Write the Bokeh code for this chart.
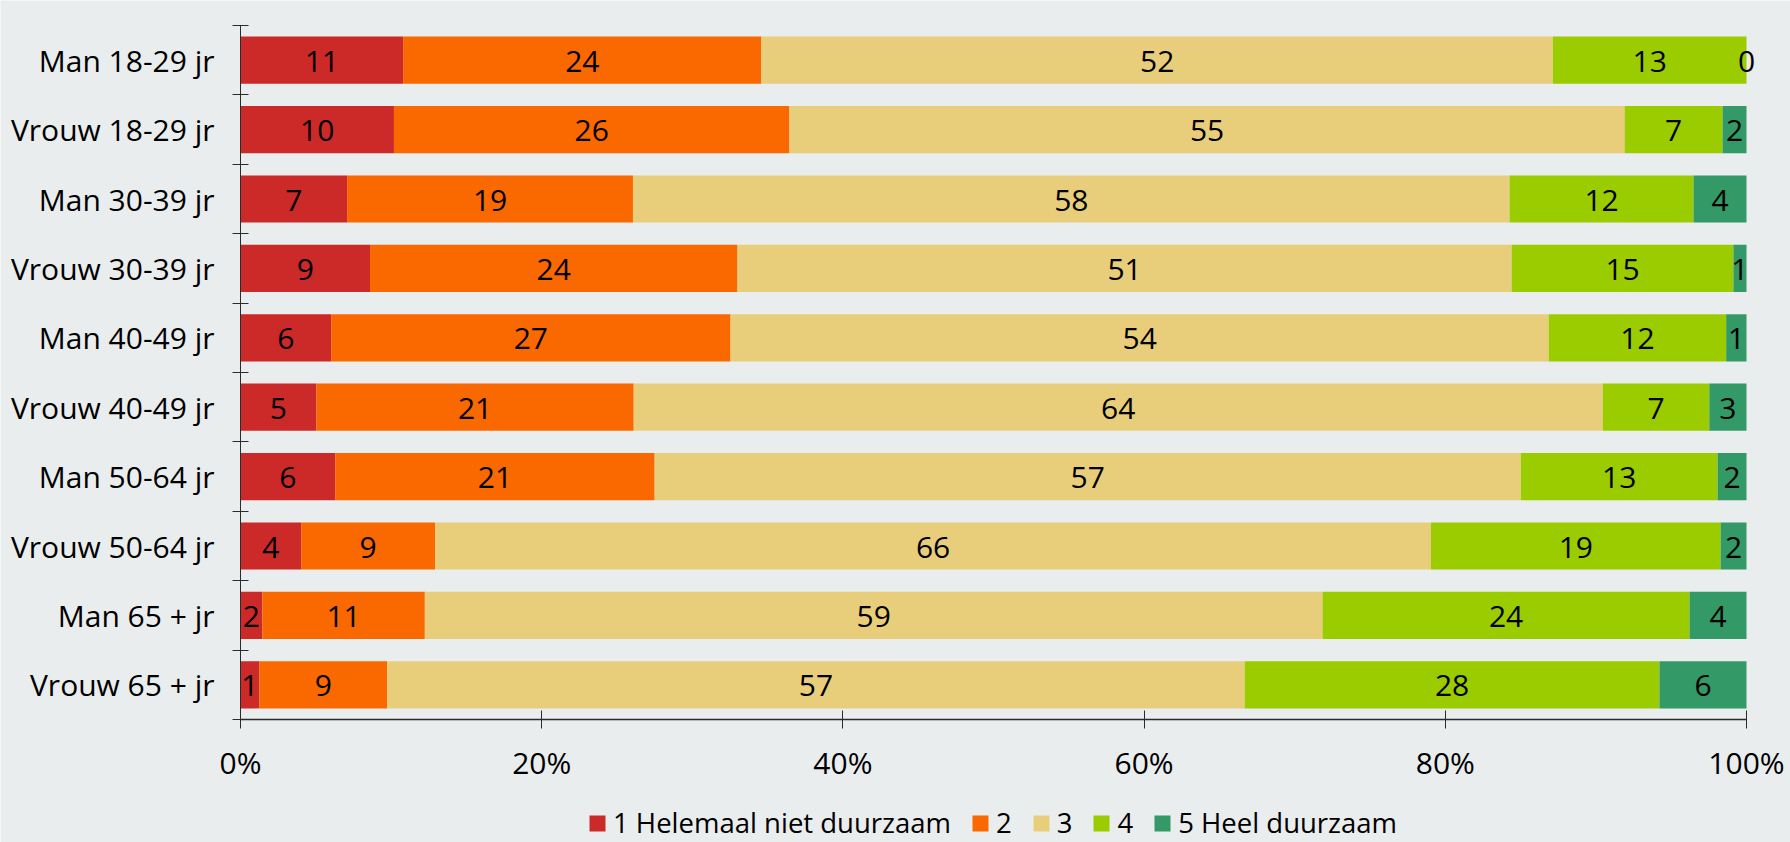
import numpy as np
from bokeh.plotting import figure
from bokeh.models import Range1d, FixedTicker, Legend, LegendItem, ColumnDataSource
from bokeh.core.properties import value
from bokeh.embed import file_html
from bokeh.resources import INLINE

# ---- data -------------------------------------------------------------
categories = ["Man 18-29 jr", "Vrouw 18-29 jr", "Man 30-39 jr", "Vrouw 30-39 jr",
              "Man 40-49 jr", "Vrouw 40-49 jr", "Man 50-64 jr", "Vrouw 50-64 jr",
              "Man 65 + jr", "Vrouw 65 + jr"]

series_names = ["1 Helemaal niet duurzaam", "2", "3", "4", "5 Heel duurzaam"]

# bar widths (% of row)
share_1 = [10.80, 10.19, 7.08, 8.60, 6.02, 5.04, 6.29, 4.03, 1.45, 1.25]
share_2 = [23.79, 26.26, 18.98, 24.40, 26.52, 21.07, 21.21, 8.89, 10.79, 8.49]
share_3 = [52.55, 55.46, 58.21, 51.41, 54.33, 64.35, 57.52, 66.13, 59.61, 56.94]
share_4 = [12.86, 6.50, 12.21, 14.72, 11.78, 7.07, 13.06, 19.23, 24.37, 27.54]
share_5 = [0.00, 1.59, 3.52, 0.87, 1.35, 2.47, 1.92, 1.72, 3.78, 5.78]

# printed values
label_1 = [11, 10, 7, 9, 6, 5, 6, 4, 2, 1]
label_2 = [24, 26, 19, 24, 27, 21, 21, 9, 11, 9]
label_3 = [52, 55, 58, 51, 54, 64, 57, 66, 59, 57]
label_4 = [13, 7, 12, 15, 12, 7, 13, 19, 24, 28]
label_5 = [0, 2, 4, 1, 1, 3, 2, 2, 4, 6]

x_ticks = [0, 20, 40, 60, 80, 100]
x_tick_labels = ["0%", "20%", "40%", "60%", "80%", "100%"]

# ---- style ------------------------------------------------------------
colors = ["#CC2929", "#FA6800", "#E8CE7B", "#9BCC00", "#339966"]
BG = "#E9EDEE"
FONT = "Open Sans"
FS = "30px"
AXIS_COLOR = "#2B2B2B"

W, H = 1790, 842
X0, X100 = 240, 1746         # pixel positions of 0% and 100%
TOP, AXIS_Y = 25, 719        # pixel positions of top boundary and x-axis

shares = [share_1, share_2, share_3, share_4, share_5]
labels = [label_1, label_2, label_3, label_4, label_5]

n = len(categories)
y_pos = [n - 1 - i for i in range(n)]

# the frame covers the whole canvas; axes are pinned with fixed_location
pxx = (X100 - X0) / 100.0
band = (AXIS_Y - TOP) / n
x_rng = Range1d(-X0 / pxx, (W - X0) / pxx)
y_rng = Range1d(-0.5 - (H - AXIS_Y) / band, n - 0.5 + TOP / band)

p = figure(width=W, height=H, output_backend="svg", toolbar_location=None,
           x_range=x_rng, y_range=y_rng,
           min_border_left=0, min_border_right=0, min_border_top=0,
           min_border_bottom=0)
p.background_fill_color = BG
p.border_fill_color = BG
p.outline_line_color = None
p.xgrid.visible = False
p.ygrid.visible = False

left = np.zeros(n)
items = []
for k in range(5):
    w = np.array(shares[k], dtype=float)
    right = left + w
    src = ColumnDataSource(dict(y=y_pos, left=left, right=right,
                                mid=(left + right) / 2,
                                txt=[str(v) for v in labels[k]]))
    r = p.hbar(y="y", left="left", right="right", height=0.68, source=src,
               fill_color=colors[k], line_color=None)
    p.text(x="mid", y="y", text="txt", source=src, text_align="center",
           text_baseline="middle", text_font=value(FONT), text_font_size=FS,
           text_color="black", y_offset=1)
    items.append(LegendItem(label=series_names[k], renderers=[r]))
    left = right

# y axis: labels at category centres, ticks at boundaries
ya = p.yaxis[0]
ya.fixed_location = 0
ya.ticker = FixedTicker(ticks=y_pos, minor_ticks=[k - 0.5 for k in range(n + 1)])
ya.major_label_overrides = {y: c for y, c in zip(y_pos, categories)}
ya.bounds = (-0.5, n - 0.5)
ya.major_tick_in = 0
ya.major_tick_out = 0
ya.minor_tick_in = 8
ya.minor_tick_out = 8
ya.minor_tick_line_color = AXIS_COLOR
ya.axis_line_color = AXIS_COLOR
ya.major_label_standoff = 18
ya.major_label_text_font = FONT
ya.major_label_text_font_size = FS
ya.major_label_text_color = "black"

xa = p.xaxis[0]
xa.fixed_location = -0.5
xa.ticker = FixedTicker(ticks=x_ticks)
xa.major_label_overrides = {t: l for t, l in zip(x_ticks, x_tick_labels)}
xa.bounds = (0, 100)
xa.major_tick_in = 9
xa.major_tick_out = 9
xa.major_tick_line_color = AXIS_COLOR
xa.axis_line_color = AXIS_COLOR
xa.axis_line_width = 1.5
xa.major_label_standoff = 13
xa.major_label_text_font = FONT
xa.major_label_text_font_size = FS
xa.major_label_text_color = "black"

legend = Legend(items=items, orientation="horizontal", location=(587, 1),
                glyph_width=20, glyph_height=20, label_standoff=6, spacing=19,
                padding=0, margin=0, label_width=10,
                label_text_font=FONT, label_text_font_size="27.5px",
                label_text_color="black",
                background_fill_alpha=0, border_line_alpha=0)
p.add_layout(legend)

open("out.html", "w").write(file_html(p, INLINE))
